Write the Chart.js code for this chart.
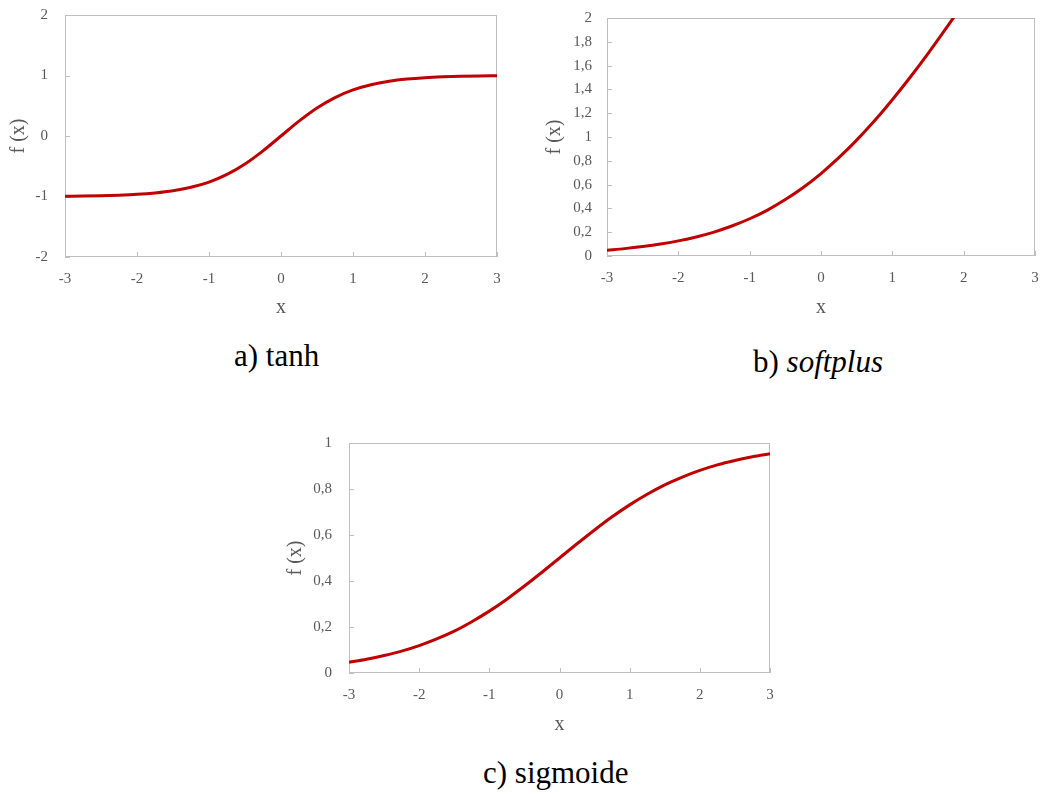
<!DOCTYPE html>
<html>
<head>
<meta charset="utf-8">
<script src="https://cdn.jsdelivr.net/npm/chart.js@4.4.0/dist/chart.umd.min.js"></script>
<style>
    body { margin: 0; background: #fff; width: 1048px; height: 794px; position: relative; overflow: hidden; }
    .box { position: absolute; }
    .cap { position: absolute; font-family: "Liberation Serif", "Times New Roman", serif; font-size: 31px; line-height: 31px; color: #000; white-space: nowrap; }
</style>
</head>
<body>
<div class="box" style="left:0;top:0"><canvas id="tanhChart" width="520" height="330"></canvas></div>
<div class="box" style="left:520px;top:0"><canvas id="softplusChart" width="528" height="330"></canvas></div>
<div class="box" style="left:280px;top:420px"><canvas id="sigmoidChart" width="520" height="330"></canvas></div>
<div class="cap" style="left:234px;top:340px">a) tanh</div>
<div class="cap" style="left:753px;top:346px">b) <i>softplus</i></div>
<div class="cap" style="left:483px;top:757px">c) sigmoide</div>
<script>
// values
const xValues = [-3, -2.75, -2.5, -2.25, -2, -1.75, -1.5, -1.25, -1, -0.75, -0.5, -0.25, 0,
                 0.25, 0.5, 0.75, 1, 1.25, 1.5, 1.75, 2, 2.25, 2.5, 2.75, 3];
const tanhValues = [-0.995, -0.992, -0.987, -0.978, -0.964, -0.941, -0.905, -0.848, -0.762, -0.635, -0.462, -0.245, 0,
                    0.245, 0.462, 0.635, 0.762, 0.848, 0.905, 0.941, 0.964, 0.978, 0.987, 0.992, 0.995];
const softplusValues = [0.049, 0.062, 0.079, 0.100, 0.127, 0.160, 0.201, 0.252, 0.313, 0.386, 0.474, 0.576, 0.693,
                        0.826, 0.974, 1.136, 1.313, 1.502, 1.701, 1.910, 2.127, 2.351, 2.579, 2.810, 3.049];
const sigmoidValues = [0.047, 0.060, 0.076, 0.095, 0.119, 0.148, 0.182, 0.223, 0.269, 0.321, 0.378, 0.438, 0.5,
                       0.562, 0.622, 0.679, 0.731, 0.777, 0.818, 0.852, 0.881, 0.905, 0.924, 0.940, 0.953];

const xTicks = [-3, -2, -1, 0, 1, 2, 3];
const tanhTicks = [-2, -1, 0, 1, 2];
const softplusTicks = [0, 0.2, 0.4, 0.6, 0.8, 1, 1.2, 1.4, 1.6, 1.8, 2];
const sigmoidTicks = [0, 0.2, 0.4, 0.6, 0.8, 1];

const lineColor = '#C00000';
const frameColor = '#BFBFBF';
const labelColor = '#595959';
const serif = '"Liberation Serif", "Times New Roman", serif';

// frame round the plot area plus short inward tick marks
const frameAndTicks = {
    id: 'frameAndTicks',
    beforeDatasetsDraw(chart) {
        const { ctx, chartArea: a, scales: { x, y } } = chart;
        ctx.save();
        ctx.strokeStyle = frameColor;
        ctx.lineWidth = 1;
        ctx.strokeRect(a.left + 0.5, a.top + 0.5, a.right - a.left - 1, a.bottom - a.top - 1);
        ctx.beginPath();
        x.ticks.forEach(t => {
            const px = Math.round(x.getPixelForValue(t.value)) + 0.5;
            ctx.moveTo(px, a.bottom);
            ctx.lineTo(px, a.bottom - 5);
        });
        y.ticks.forEach(t => {
            const py = Math.round(y.getPixelForValue(t.value)) + 0.5;
            ctx.moveTo(a.left, py);
            ctx.lineTo(a.left + 5, py);
        });
        ctx.stroke();
        ctx.restore();
    }
};

function commaLabel(v) {
    return String(Math.round(v * 10) / 10).replace('.', ',');
}

function makeChart(id, yValues, yTicks, lay) {
    const points = xValues.map((x, i) => ({ x: x, y: yValues[i] }));
    return new Chart(document.getElementById(id), {
        type: 'scatter',
        data: {
            datasets: [{
                data: points,
                showLine: true,
                borderColor: lineColor,
                borderWidth: 3,
                pointRadius: 0,
                cubicInterpolationMode: 'monotone',
                clip: 0
            }]
        },
        options: {
            responsive: false,
            animation: false,
            layout: { padding: { top: lay.top, right: lay.right, left: 0, bottom: 0 } },
            plugins: { legend: { display: false }, tooltip: { enabled: false } },
            scales: {
                x: {
                    type: 'linear',
                    min: xTicks[0],
                    max: xTicks[xTicks.length - 1],
                    grid: { display: false, drawTicks: false },
                    border: { display: false },
                    ticks: { stepSize: 1, padding: 13, color: labelColor, font: { family: serif, size: 15 } },
                    title: { display: true, text: 'x', color: labelColor, font: { family: serif, size: 20 }, padding: { top: 0, bottom: lay.xTitlePad } },
                    afterFit: s => {
                        s.height = lay.xHeight;
                        s.paddingLeft = 0;
                        s.paddingRight = 0;
                    }
                },
                y: {
                    type: 'linear',
                    min: yTicks[0],
                    max: yTicks[yTicks.length - 1],
                    grid: { display: false, drawTicks: false },
                    border: { display: false },
                    ticks: {
                        stepSize: yTicks[1] - yTicks[0],
                        autoSkip: false,
                        padding: lay.yTickPad,
                        color: labelColor,
                        font: { family: serif, size: 15 },
                        callback: v => commaLabel(v)
                    },
                    title: { display: true, text: 'f (x)', color: labelColor, font: { family: serif, size: 20 }, padding: { top: lay.yTitlePad, bottom: 0 } },
                    afterFit: s => {
                        s.width = lay.yWidth;
                        s.paddingTop = 0;
                        s.paddingBottom = 0;
                    }
                }
            }
        },
        plugins: [frameAndTicks]
    });
}

makeChart('tanhChart', tanhValues, tanhTicks,
    { top: 15, right: 23, yWidth: 65, xHeight: 73, yTickPad: 17, yTitlePad: 7, xTitlePad: 10 });
makeChart('softplusChart', softplusValues, softplusTicks,
    { top: 18, right: 13, yWidth: 87, xHeight: 74, yTickPad: 15, yTitlePad: 23, xTitlePad: 10 });
makeChart('sigmoidChart', sigmoidValues, sigmoidTicks,
    { top: 23, right: 30, yWidth: 69, xHeight: 77, yTickPad: 17, yTitlePad: 4, xTitlePad: 13 });
</script>
</body>
</html>
